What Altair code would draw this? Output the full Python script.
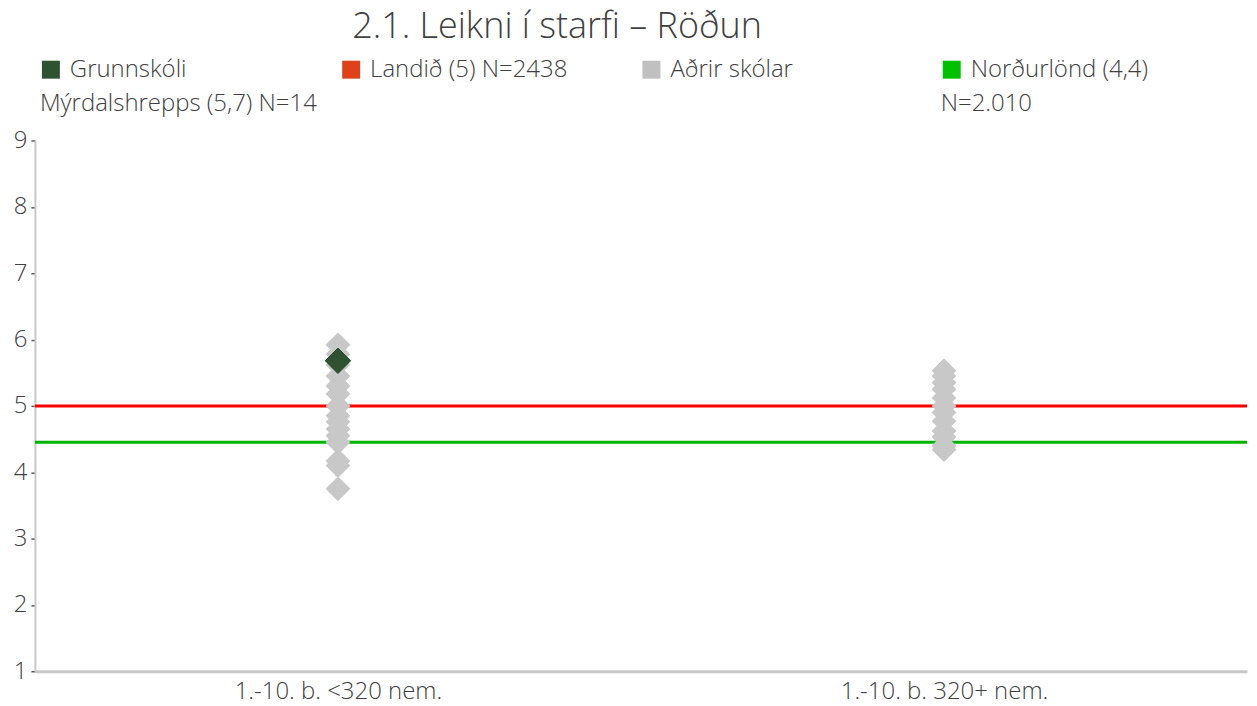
import altair as alt
import pandas as pd

# ---- data ----
categories = ["1.-10. b. <320 nem.", "1.-10. b. 320+ nem."]
others_small = [5.92, 5.78, 5.62, 5.45, 5.30, 5.18, 5.00, 4.85, 4.76, 4.65, 4.55, 4.45, 4.17, 4.10, 3.75]
others_large = [5.53, 5.45, 5.35, 5.25, 5.12, 5.00, 4.90, 4.77, 4.62, 4.53, 4.40, 4.34]
school_cat = ["1.-10. b. <320 nem."]
school_val = [5.68]
ref_names = ["Landið (5) N=2438", "Norðurlönd (4,4) N=2.010"]
ref_vals = [5.0, 4.45]
legend_line1 = ["Grunnskóli", "Landið (5) N=2438", "Aðrir skólar", "Norðurlönd (4,4)"]
legend_line2 = ["Mýrdalshrepps (5,7) N=14", "", "", "N=2.010"]
legend_colors = ["#2f5230", "#e0401a", "#c0c0c0", "#00c000"]

FONT = "Open Sans"
TXT = "#404040"
FS = 24

others = pd.DataFrame({
    "cat": [categories[0]] * len(others_small) + [categories[1]] * len(others_large),
    "val": others_small + others_large,
})
school = pd.DataFrame({"cat": school_cat, "val": school_val})
refs = pd.DataFrame({"name": ref_names, "val": ref_vals})
leg = pd.DataFrame({
    "slot": list(range(4)),
    "l1": legend_line1,
    "l2": legend_line2,
    "color": legend_colors,
})

W, H = 1215, 532

xenc = alt.X("cat:N", sort=categories, title=None,
             scale=alt.Scale(type="point", padding=0.5, domain=categories),
             axis=alt.Axis(labelAngle=0, ticks=False, domainColor="#c8c8c8", domainWidth=3,
                           labelFontSize=FS, labelColor=TXT, labelFont=FONT, labelPadding=8,
                           labelFontWeight=300, labelLimit=0))
yscale = alt.Scale(domain=[1, 9], nice=False, zero=False)
yenc = alt.Y("val:Q", title=None, scale=yscale,
             axis=alt.Axis(values=list(range(1, 10)), format="d", grid=False, domainColor="#c8c8c8",
                           domainWidth=2, tickColor="#595959", tickSize=4, tickWidth=1.5,
                           labelFontSize=FS, labelColor=TXT, labelFont=FONT, labelPadding=4,
                           labelFontWeight=300))

rule_red = alt.Chart(refs).transform_filter(alt.datum.val == ref_vals[0]).mark_rule(
    color="#ff0000", strokeWidth=3).encode(y=alt.Y("val:Q", scale=yscale))
rule_green = alt.Chart(refs).transform_filter(alt.datum.val == ref_vals[1]).mark_rule(
    color="#00b400", strokeWidth=3).encode(y=alt.Y("val:Q", scale=yscale))

pts_other = alt.Chart(others).mark_point(shape="diamond", filled=True, size=620,
                                         color="#c8c8c8", opacity=1).encode(x=xenc, y=yenc)
pts_school = alt.Chart(school).mark_point(shape="diamond", filled=True, size=650,
                                          color="#2f5230", opacity=1, stroke="#26422a",
                                          strokeWidth=1).encode(x=xenc, y=yenc)

lx = alt.X("slot:Q", axis=None, scale=alt.Scale(domain=[0, 3], range=[16, 919], nice=False, zero=False))
leg_sym = alt.Chart(leg).mark_square(size=324, opacity=1).encode(
    x=lx, y=alt.value(-71), color=alt.Color("color:N", scale=None))
leg_t1 = alt.Chart(leg).mark_text(align="left", baseline="middle", fontSize=FS, font=FONT,
                                  fontWeight=300, color=TXT, dx=19).encode(
    x=lx, y=alt.value(-71), text="l1:N")
leg_t2 = alt.Chart(leg).mark_text(align="left", baseline="middle", fontSize=FS, font=FONT,
                                  fontWeight=300, color=TXT, dx=-11).encode(
    x=lx, y=alt.value(-37), text="l2:N")

legend = alt.layer(leg_sym, leg_t1, leg_t2)
main = alt.layer(rule_red, rule_green, pts_other, pts_school)

chart = alt.layer(main, legend).resolve_scale(x="independent").properties(
    width=W, height=H,
    padding={"left": 5, "top": 0, "right": 0, "bottom": 0},
    title=alt.TitleParams("2.1. Leikni í starfi – Röðun", anchor="start", frame="group",
                          dx=318, offset=12, fontSize=36, font=FONT, fontWeight=300,
                          color=TXT),
).configure_view(stroke=None)

chart.save("out.html", embed_options={"renderer": "svg", "actions": False})
